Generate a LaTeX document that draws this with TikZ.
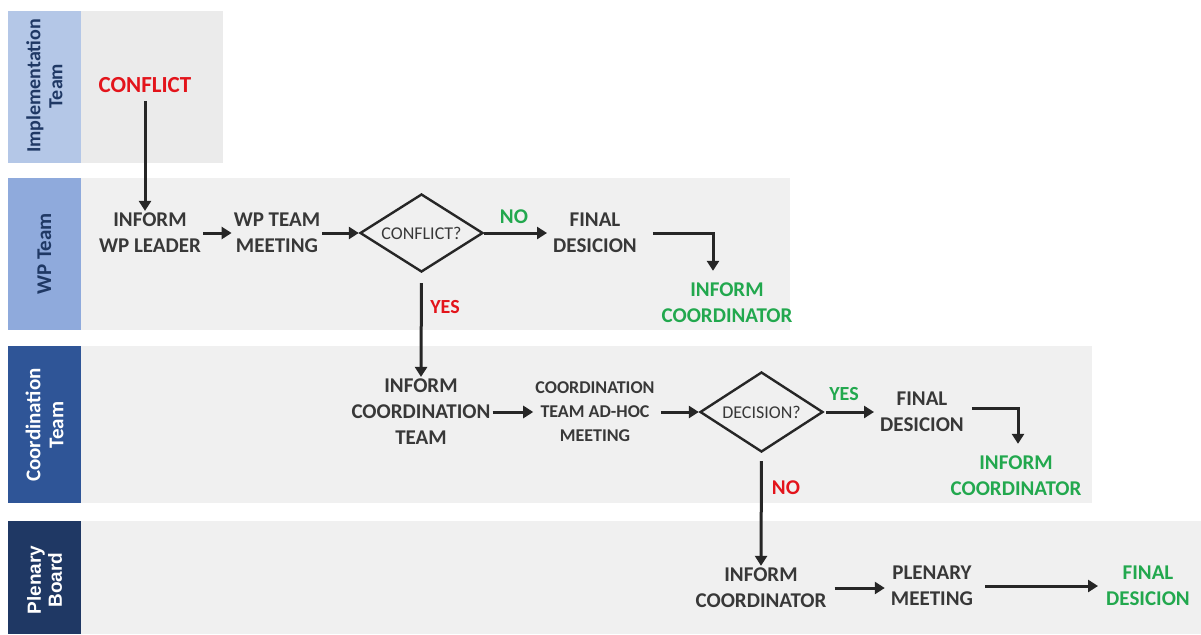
\documentclass[tikz,border=0pt]{standalone}
\usepackage{fontspec}
\setmainfont{Carlito}
\newfontfamily\arialf{Liberation Sans}
\usetikzlibrary{arrows.meta,shapes.geometric}
\definecolor{laneA}{HTML}{B4C7E7}
\definecolor{laneB}{HTML}{8FAADC}
\definecolor{laneC}{HTML}{2F5597}
\definecolor{laneD}{HTML}{1F3864}
\definecolor{bgA}{HTML}{EBEBEB}
\definecolor{bgB}{HTML}{F0F0F0}
\definecolor{txtgray}{HTML}{383838}
\definecolor{myred}{HTML}{E3141B}
\definecolor{mygreen}{HTML}{22A84E}
\definecolor{arrowc}{HTML}{262626}
\tikzset{
  txt/.style={align=center, text=txtgray, font=\fontsize{21}{26}\selectfont\bfseries, inner sep=2pt},
  smalltxt/.style={align=center, text=txtgray, font=\fontsize{18}{24}\selectfont\bfseries, inner sep=2pt},
  gtxt/.style={txt, text=mygreen},
  rtxt/.style={txt, text=myred},
  dia/.style={diamond, draw=arrowc, line width=2.4pt, aspect=1.6, inner sep=0pt,
    label={[text=txtgray, font=\fontsize{18}{20}\selectfont]center:#1}},
  arr/.style={draw=arrowc, line width=3pt, -{Triangle[length=10pt,width=12pt]}},
  lanelbl/.style={rotate=90, align=center, font=\arialf\fontsize{19}{21}\selectfont\bfseries}
}
\begin{document}
\begin{tikzpicture}[x=1pt,y=-1pt]
\useasboundingbox (0,0) rectangle (1201,634);
\fill[white] (0,0) rectangle (1201,634);
% lanes
\fill[bgA] (81,11) rectangle (223,163);
\fill[laneA] (8,11) rectangle (81,163);
\fill[bgB] (81,178) rectangle (790,330);
\fill[laneB] (8,178) rectangle (81,330);
\fill[bgB] (81,346) rectangle (1092,503);
\fill[laneC] (8,346) rectangle (81,503);
\fill[bgB] (81,521) rectangle (1201,634);
\fill[laneD] (8,521) rectangle (81,634);
\node[lanelbl, text=laneD, font=\fontsize{20}{22}\selectfont\bfseries] (l1) at (44.5,86) {Implementation\\Team};
\node[lanelbl, text=laneD, font=\fontsize{21}{23}\selectfont\bfseries] (l2) at (44.5,254) {WP Team};
\node[lanelbl, text=white, font=\fontsize{21}{23}\selectfont\bfseries] (l3) at (44.5,425) {Coordination\\Team};
\node[lanelbl, text=white] (l4) at (44.5,580) {Plenary\\Board};
% nodes
\node[rtxt, font=\fontsize{23}{26}\selectfont\bfseries] (conf) at (145,85) {CONFLICT};
\node[txt] (iwl) at (150,233) {INFORM\\WP LEADER};
\node[txt] (wtm) at (277,233) {WP TEAM\\MEETING};
\node[dia=CONFLICT?, minimum width=123pt, minimum height=78pt] (c1) at (421.5,233) {};
\node[txt] (fd1) at (595,233) {FINAL\\DESICION};
\node[gtxt] (ic1) at (727,303) {INFORM\\COORDINATOR};
\node[txt] (ict) at (421,412) {INFORM\\COORDINATION\\TEAM};
\node[smalltxt] (cta) at (595,412) {COORDINATION\\TEAM AD-HOC\\MEETING};
\node[dia=DECISION?, minimum width=123pt, minimum height=80pt] (d1) at (761.5,412) {};
\node[txt] (fd2) at (922,412) {FINAL\\DESICION};
\node[gtxt] (ic2) at (1016,476) {INFORM\\COORDINATOR};
\node[txt] (ic3) at (761,588) {INFORM\\COORDINATOR};
\node[txt] (pm) at (932,586) {PLENARY\\MEETING};
\node[gtxt] (fd3) at (1148,586) {FINAL\\DESICION};
% edge labels
\node[gtxt] (no1) at (514,217) {NO};
\node[rtxt, font=\fontsize{20}{22}\selectfont\bfseries] (yes1) at (445,307) {YES};
\node[gtxt, font=\fontsize{20}{22}\selectfont\bfseries] (yes2) at (844,394) {YES};
\node[rtxt] (no2) at (786,488) {NO};
% connectors
\draw[arr, shorten <=6pt] (conf.south) -- (conf.south |- iwl.north);
\draw[arr] (iwl.east) -- (wtm.west);
\draw[arr] (wtm.east) -- (c1.west);
\draw[arr] (c1.east) -- ([xshift=-4pt]fd1.west);
\draw[arr, shorten <=14pt] (fd1.east) -| ([xshift=-14pt,yshift=10pt]ic1.north);
\draw[arr, shorten <=10pt] (c1.south) -- (ict.north);
\draw[arr] (ict.east) -- (cta.west);
\draw[arr, shorten <=4pt] (cta.east) -- (d1.west);
\draw[arr, shorten <=2pt] (d1.east) -- ([xshift=-4pt]fd2.west);
\draw[arr, shorten <=6pt] ([yshift=4pt]fd2.east) -| ([xshift=2pt,yshift=10pt]ic2.north);
\draw[arr, shorten <=8pt] (d1.south) -- (ic3.north);
\draw[arr, shorten <=6pt, shorten >=4pt] (ic3.east) -- (ic3.east -| pm.west);
\draw[arr, shorten <=10pt, shorten >=6pt] (pm.east) -- (pm.east -| fd3.west);
\end{tikzpicture}
\end{document}
